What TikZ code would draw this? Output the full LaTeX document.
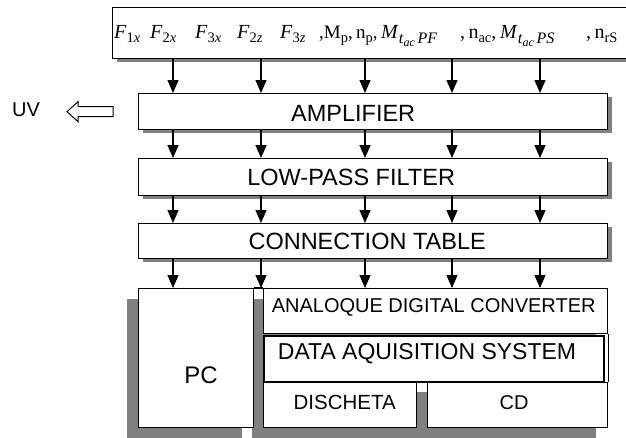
\documentclass[tikz,border=0pt]{standalone}
\usepackage{fontspec}
\setmainfont{Liberation Serif}
\newfontfamily\arialf{Liberation Sans}
\usetikzlibrary{arrows.meta,shadows}
\newcommand\sbs[1]{\raisebox{-4pt}{\fontsize{14.5}{14.5}\selectfont #1}}
\newcommand\mF[2]{\textit{F}\sbs{#1\textit{#2}}}
\newcommand\mM[1]{\textit{M}\raisebox{-5pt}{\fontsize{16}{16}\selectfont\textit{t}\raisebox{-3pt}{\fontsize{12}{12}\selectfont\textit{ac}}\,\textit{#1}}}
\begin{document}
\begin{tikzpicture}[x=1pt,y=-1pt,
  box/.style={draw=black, line width=1.3pt, fill=white, rectangle, inner sep=0pt, anchor=north west},
  sbox/.style={box, drop shadow={shadow xshift=4pt, shadow yshift=-3.5pt, fill=black!50, opacity=1}},
  lbl/.style={font=\arialf\fontsize{23.5}{23.5}\selectfont, inner sep=0pt},
  slbl/.style={font=\arialf\fontsize{20}{20}\selectfont, inner sep=0pt},
  arr/.style={line width=1.2pt, -{Triangle[length=13pt,width=11pt]}},
  shd/.style={fill=black!50},
  hol/.style={draw=black, line width=1pt, fill=white},
  mtext/.style={anchor=base west, inner sep=0pt, font=\fontsize{20}{20}\selectfont}
]
\useasboundingbox (0,0) rectangle (626,437);
\clip (0,0) rectangle (626,437);

% top box with signal names
\node[sbox, minimum width=540pt, minimum height=51pt] (top) at (112,7) {};
\node[mtext] (t1) at (114,38) {\mF{1}{x}};
\node[mtext] (t2) at (150,38) {\mF{2}{x}};
\node[mtext] (t3) at (195,38) {\mF{3}{x}};
\node[mtext] (t4) at (237,38) {\mF{2}{z}};
\node[mtext] (t5) at (280,38) {\mF{3}{z}};
\node[mtext, font=\fontsize{19}{19}\selectfont] (t6) at (319,38) {,M\sbs{p},\,n\sbs{p},};
\node[mtext] (t7) at (381,38) {\mM{PF}};
\node[mtext] (t8) at (460,38) {,\,n\sbs{ac},};
\node[mtext] (t9) at (500,38) {\mM{PS}};
\node[mtext] (t10) at (586,38) {,\,n\sbs{rS}};

% chain of blocks
\node[sbox, minimum width=469pt, minimum height=36pt,
  label={[lbl, xshift=-20pt, yshift=-2pt]center:AMPLIFIER}] (amp) at (138,93) {};
\node[sbox, minimum width=469pt, minimum height=37pt,
  label={[lbl, xshift=-22pt]center:LOW-PASS FILTER}] (lpf) at (138,158) {};
\node[sbox, minimum width=469pt, minimum height=35pt,
  label={[lbl, xshift=-6pt]center:CONNECTION TABLE}] (ct) at (138,223) {};

% UV output
\node[slbl] (uv) at (26,110) {UV};
\draw[hol] ([xshift=-25pt]amp.west) ++(0,-5) -- ++(-35,0) -- ++(0,-5) -- ++(-11,10)
  -- ++(11,10) -- ++(0,-5) -- ++(35,0) -- cycle;

% shadow of the lower group
\fill[shd] (127,299) rectangle (242,438);
\fill[shd] (252,299) rectangle (596,381);
\fill[shd] (252,381) rectangle (416,438);
\fill[shd] (416,392) rectangle (596,438);

% lower group
\node[box, minimum width=115pt, minimum height=139pt,
  label={[lbl, font=\arialf\fontsize{24}{24}\selectfont, xshift=5pt, yshift=-17.5pt]center:PC}] (pc) at (138,288) {};
\node[box, minimum width=344pt, minimum height=45pt,
  label={[slbl, xshift=-2pt, yshift=3.5pt]center:ANALOQUE DIGITAL CONVERTER}] (adc) at (263,288) {};
\node[box, line width=2pt, minimum width=340pt, minimum height=46pt,
  label={[lbl, font=\arialf\fontsize{23}{23}\selectfont, xshift=-7pt, yshift=5pt]center:DATA AQUISITION SYSTEM}] (das) at (263,335) {};
\node[box, minimum width=153pt, minimum height=45pt,
  label={[slbl, font=\arialf\fontsize{20.5}{20.5}\selectfont, xshift=4.5pt, yshift=2.5pt]center:DISCHETA}] (disc) at (263,382) {};
\node[box, minimum width=180pt, minimum height=45pt,
  label={[slbl, xshift=-3.5pt, yshift=2.5pt]center:CD}] (cd) at (427,382) {};
\draw[line width=1.3pt] (pc.north east) -- (adc.north west);
\draw[line width=1.3pt] (adc.south east) -- (cd.north east);

% arrows
\coordinate (c1) at (173,0);
\coordinate (c2) at (261,0);
\coordinate (c3) at (365,0);
\coordinate (c4) at (452,0);
\coordinate (c5) at (540,0);
\foreach \c in {c1,c2,c3,c4,c5}{
  \draw[arr] (\c |- top.south) -- (\c |- amp.north);
  \draw[arr] (\c |- amp.south) -- (\c |- lpf.north);
  \draw[arr] (\c |- lpf.south) -- (\c |- ct.north);
}
\draw[arr] (c1 |- ct.south) -- (c1 |- pc.north);
\draw[arr] (c2 |- ct.south) -- (c2 |- pc.north);
\draw[arr] (c3 |- ct.south) -- (c3 |- adc.north);
\draw[arr] (c4 |- ct.south) -- (c4 |- adc.north);
\draw[arr] (c5 |- ct.south) -- (c5 |- adc.north);
\end{tikzpicture}
\end{document}
